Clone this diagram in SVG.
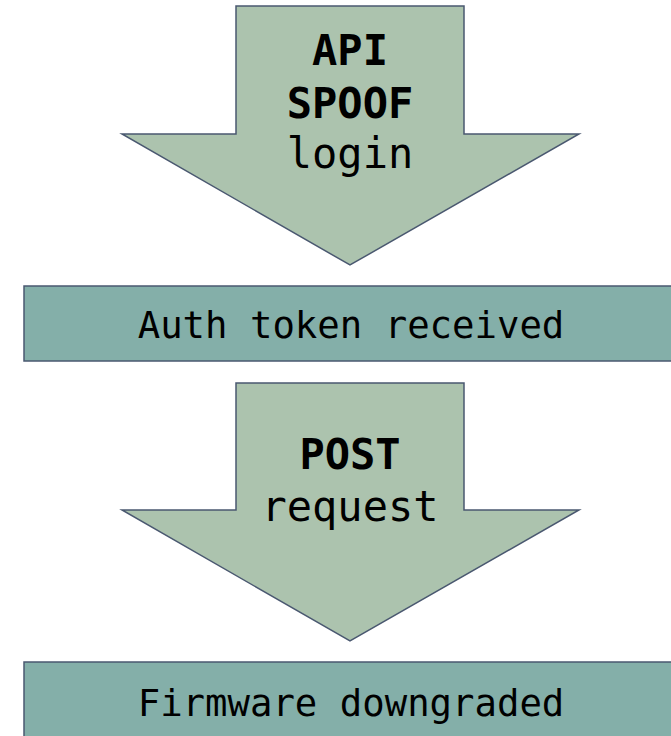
<svg xmlns="http://www.w3.org/2000/svg" width="671" height="736" viewBox="0 0 671 736">
  <style>
    .arrow { fill: #acc3ae; stroke: #4a5870; stroke-width: 1.5; stroke-linejoin: miter; }
    .box { fill: #84afa9; stroke: #4a5870; stroke-width: 1.5; }
    .t { font-family: "DejaVu Sans Mono", "Liberation Mono", monospace; fill: #000; text-anchor: middle; }
    .big { font-size: 42px; }
    .mid { font-size: 37.3px; }
    .b { font-weight: bold; }
  </style>
  <rect width="671" height="736" fill="#ffffff"/>

  <g id="connectors"></g>

  <g id="step-api-spoof">
    <path class="arrow" d="M236,6 H464 V134 H579 L350,265 L122,134 H236 Z"/>
    <text class="t big b" x="350" y="65">API</text>
    <text class="t big b" x="350" y="118">SPOOF</text>
    <text class="t big" x="350" y="168">login</text>
  </g>

  <g id="state-auth-token">
    <rect class="box" x="24" y="286" width="660" height="75"/>
    <text class="t mid" x="351" y="338">Auth token received</text>
  </g>

  <g id="step-post-request">
    <path class="arrow" d="M236,383 H464 V510 H579 L350,641 L122,510 H236 Z"/>
    <text class="t big b" x="350" y="469">POST</text>
    <text class="t big" x="350" y="521">request</text>
  </g>

  <g id="state-firmware">
    <rect class="box" x="24" y="662" width="660" height="90"/>
    <text class="t mid" x="351" y="716">Firmware downgraded</text>
  </g>
</svg>
